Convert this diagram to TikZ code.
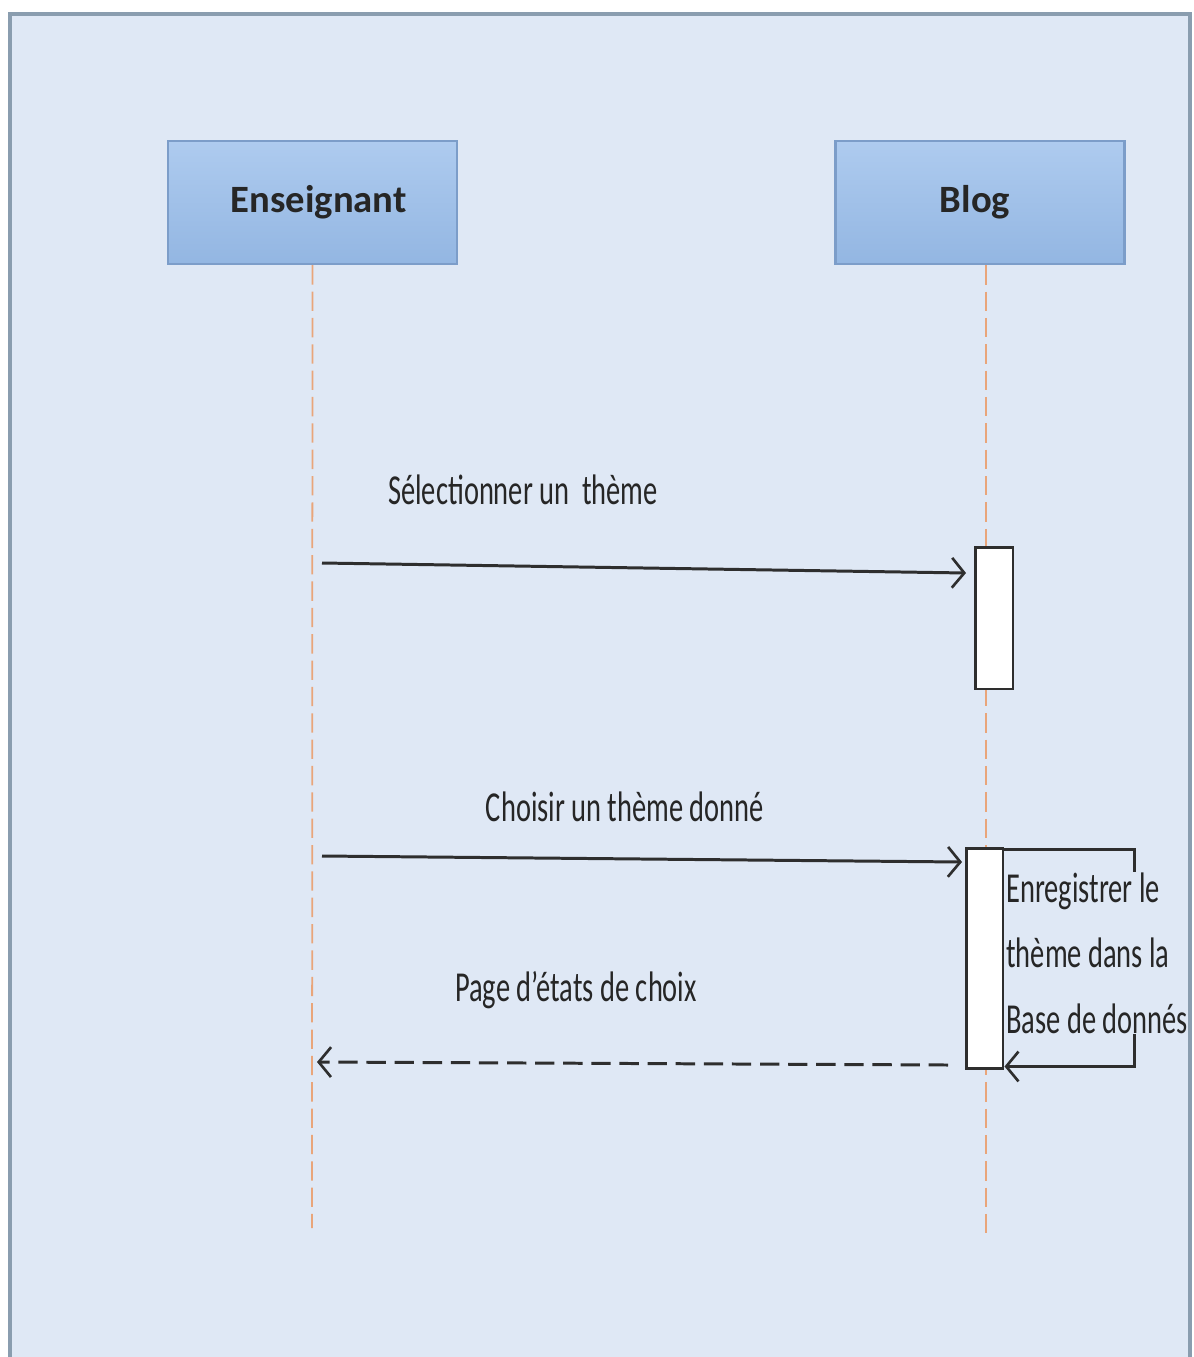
\documentclass[tikz,border=0pt]{standalone}
\usepackage{fontspec}
\setmainfont{Carlito}
\usepackage{graphicx}
\usetikzlibrary{arrows.meta, positioning, calc}
\definecolor{panelbg}{HTML}{DFE8F5}
\definecolor{panelrim}{HTML}{8A9DAF}
\definecolor{actortop}{HTML}{AECBEF}
\definecolor{actorbot}{HTML}{93B6E2}
\definecolor{actorrim}{HTML}{7C9DC9}
\definecolor{lifeorange}{HTML}{E9A57A}
\definecolor{inkgray}{HTML}{2E2E2E}
\newcommand{\tall}[1]{\scalebox{1}[1.5]{#1}}
\tikzstyle{actor} = [rectangle, minimum width=5.78cm, minimum height=2.46cm, draw=actorrim, line width=1.4pt, top color=actortop, bottom color=actorbot, font=\fontsize{22}{26}\selectfont\bfseries, text=black!85]
\tikzstyle{activ} = [rectangle, draw=inkgray, line width=1.7pt, fill=white]

\begin{document}
\begin{tikzpicture}[x=0.02cm, y=-0.02cm,
    life/.style={dashed, dash pattern=on 11pt off 4pt, color=lifeorange, line width=1pt},
    msg/.style={-{Straight Barb[length=7pt, width=17pt, line width=1.5pt]}, color=inkgray, line width=1.7pt},
    ret/.style={msg, dash pattern=on 11pt off 5pt},
    lbl/.style={font=\fontsize{16.2}{19}\selectfont, text=black!85, inner sep=1pt}
  ]
    \useasboundingbox (0,0) rectangle (1194,1357);

    % ── Panel
    \fill[panelbg] (10,14) rectangle (1190,1357);
    \draw[panelrim, line width=1.8pt] (10,1357) -- (10,14) -- (1190,14) -- (1190,1357);

    % ── Actors
    \node[actor] (ens) at (312.5,202.5) {\raisebox{-2pt}{\hspace{0.25cm}Enseignant}};
    \node[actor] (blog) at (980,202.5) {\hspace{-0.2cm}Blog};

    % ── Lifelines
    \coordinate (ensEnd) at (312,1228);
    \coordinate (blogEnd) at (986,1235);
    \draw[life] (ens.south) -- (ensEnd);
    \draw[life] (blog.south -| blogEnd) -- (blogEnd);

    % ── Activations
    \node[activ, minimum width=0.76cm, minimum height=2.84cm] (act1) at (994,618) {};
    \node[activ, minimum width=0.74cm, minimum height=4.42cm] (act2) at (984.5,958.5) {};

    % ── Messages
    \coordinate (m1s) at (322,563);
    \coordinate (m1e) at (966,573);
    \draw[msg] (m1s) -- (m1e);
    \node[lbl] (selTheme) at (523,490) {\tall{Sélectionner un\ \ thème}};

    \coordinate (m2s) at (322,856);
    \coordinate (m2e) at (962,862);
    \draw[msg] (m2s) -- (m2e);
    \node[lbl] (choix) at (625,807) {\tall{Choisir un thème donné}};

    \coordinate (m3s) at (948,1065);
    \coordinate (m3e) at (317,1062);
    \draw[ret] (m3s) -- (m3e);
    \node[lbl] (etats) at (576,990) {\tall{Page d’états de choix}};

    % ── Self call
    \draw[msg] ([yshift=-0.06cm]act2.north east) -- ++(130,0) |- ([yshift=0.08cm]act2.south east);
    \node[lbl, fill=panelbg, anchor=north west, align=left, inner sep=0pt,
      font=\fontsize{16.2}{37.5}\selectfont] (enreg) at (1006,872)
      {\tall{Enregistrer le}\\\tall{thème dans la}\\\tall{Base de donnés}};
  \end{tikzpicture}
\end{document}
